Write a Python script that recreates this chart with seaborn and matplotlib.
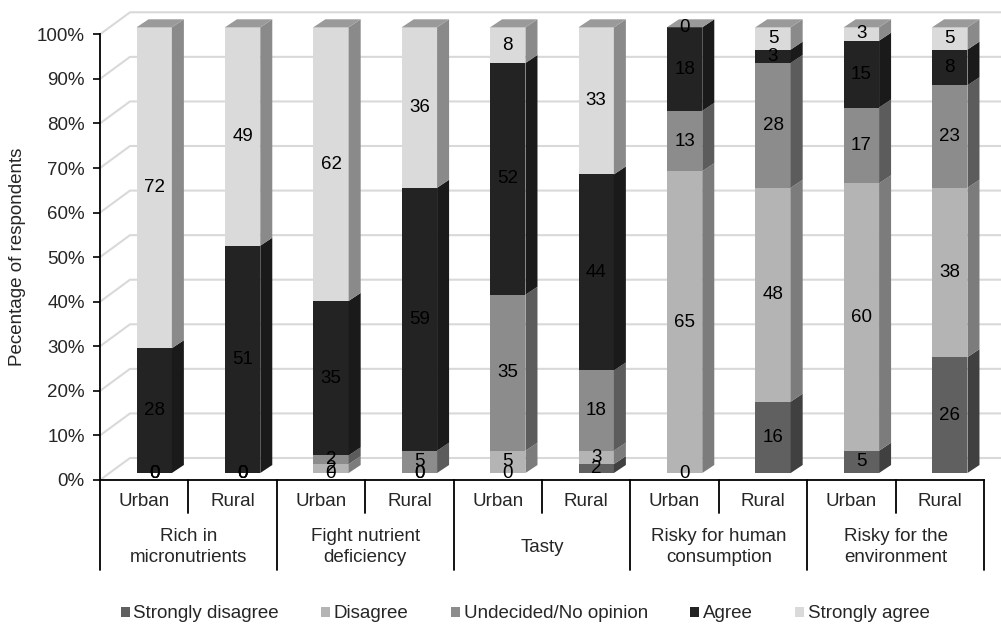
import numpy as np
import pandas as pd
import matplotlib
matplotlib.use('Agg')
import matplotlib.pyplot as plt
from matplotlib.patches import Polygon, Patch
import seaborn as sns

# chart data (respondent counts per answer, per bar)
groups = ['Rich in\nmicronutrients', 'Fight nutrient\ndeficiency', 'Tasty',
          'Risky for human\nconsumption', 'Risky for the\nenvironment']
areas = ['Urban', 'Rural']
levels = ['Strongly disagree', 'Disagree', 'Undecided/No opinion', 'Agree', 'Strongly agree']

strongly_disagree = [0, 0, 0, 0, 0, 2, 0, 16, 5, 26]
disagree = [0, 0, 2, 0, 5, 3, 65, 48, 60, 38]
undecided = [0, 0, 2, 5, 35, 18, 13, 28, 17, 23]
agree = [28, 51, 35, 59, 52, 44, 18, 3, 15, 8]
strongly_agree = [72, 49, 62, 36, 8, 33, 0, 5, 3, 5]

front_colors = ['#606060', '#b4b4b4', '#8c8c8c', '#232323', '#dadada']
side_colors = ['#404040', '#7c7c7c', '#5c5c5c', '#1a1a1a', '#8a8a8a']
top_color = '#9a9a9a'
grid_color = '#d9d9d9'
fs = 13.5

sns.set_style('white')
plt.rcParams['font.family'] = ['Liberation Sans', 'DejaVu Sans']

series = np.array([strongly_disagree, disagree, undecided, agree, strongly_agree], dtype=float)
pct = series / series.sum(axis=0) * 100
cum = np.cumsum(pct, axis=0)
bar_ids = [f'{g}|{a}' for g in groups for a in areas]
n = len(bar_ids)

fig = plt.figure(figsize=(10.01, 6.24), dpi=100)
W, H = 1001, 624
x0, x1, y0, y1 = 100, 984, 480, 34.3
ax = fig.add_axes([x0 / W, 1 - y0 / H, (x1 - x0) / W, (y0 - y1) / H])

# pixel sizes of one data unit
ux = (x1 - x0) / n
uy = (y0 - y1) / 100
FX, FY = 10 / ux, 7 / uy      # front face offset from the axis plane
DX, DY = 12 / ux, 8 / uy      # bar depth
WX, WY = 30 / ux, 22 / uy     # back wall offset
bw = 0.4

# back wall gridlines
for v in range(0, 101, 10):
    ax.plot([-0.5, -0.5 + WX, n - 0.5 + WX], [v, v + WY, v + WY],
            color=grid_color, lw=1.5, clip_on=False, zorder=0)

# front faces: cumulative stacks drawn tallest first
for k in range(len(levels) - 1, -1, -1):
    before = len(ax.patches)
    df = pd.DataFrame({'bar': bar_ids, 'value': cum[k]})
    sns.barplot(data=df, x='bar', y='value', order=bar_ids, color=front_colors[k],
                saturation=1, width=bw, linewidth=0, ax=ax, zorder=2)
    for p in ax.patches[before:]:
        p.set_x(p.get_x() + FX)
        p.set_y(p.get_y() + FY)
        p.set_clip_on(False)

# side and top faces
for i in range(n):
    xr = i + FX + bw / 2
    xl = xr - bw
    bottom = 0
    for k in range(len(levels)):
        top = cum[k, i]
        ax.add_patch(Polygon([(xr, bottom + FY), (xr, top + FY), (xr + DX, top + FY + DY),
                              (xr + DX, bottom + FY + DY)], closed=True,
                             facecolor=side_colors[k], lw=0, zorder=2, clip_on=False))
        bottom = top
    ax.add_patch(Polygon([(xl, 100 + FY), (xr, 100 + FY), (xr + DX, 100 + FY + DY),
                          (xl + DX, 100 + FY + DY)], closed=True,
                         facecolor=top_color, lw=0, zorder=2, clip_on=False))

# value labels
for i in range(n):
    bottom = 0
    for k in range(len(levels)):
        top = cum[k, i]
        ax.text(i + FX, (bottom + top) / 2 + FY, f'{int(series[k, i])}', ha='center',
                va='center', fontsize=fs, color='black', zorder=5)
        bottom = top

ax.set_xlim(-0.5, n - 0.5)
ax.set_ylim(0, 100)
ax.set_xticks([])
ax.set_xlabel('')
ax.set_ylabel('')
ax.set_yticks(range(0, 101, 10))
ax.set_yticklabels([f'{v}%' for v in range(0, 101, 10)], fontsize=fs)
ax.tick_params(axis='y', direction='out', length=5, width=1.2, color='black', pad=6, left=True)
for s in ['top', 'right']:
    ax.spines[s].set_visible(False)
for s in ['left', 'bottom']:
    ax.spines[s].set_color('black')
    ax.spines[s].set_linewidth(1.3)

# category axis with two levels
short_y = -(513 - y0) / uy
long_y = -(570 - y0) / uy
for j in range(n + 1):
    b = j - 0.5
    ax.plot([b, b], [0, long_y if j % 2 == 0 else short_y], color='black', lw=1.3,
            clip_on=False, zorder=3)
for i, bid in enumerate(bar_ids):
    ax.text(i, -(502 - y0) / uy, bid.split('|')[1], ha='center', va='center', fontsize=fs)
for g, name in enumerate(groups):
    ax.text(2 * g + 0.5, -(547 - y0) / uy, name, ha='center', va='center', fontsize=fs,
            linespacing=1.3)

fig.text(18 / W, 1 - 257 / H, 'Pecentage of respondents', rotation=90, ha='center',
         va='center', fontsize=fs)

handles = [Patch(facecolor=c, edgecolor='none') for c in front_colors]
fig.legend(handles, levels, loc='center', bbox_to_anchor=(525 / W, 1 - 614 / H), ncol=5,
           frameon=False, fontsize=fs, handlelength=0.48, handleheight=0.48,
           handletextpad=0.2, columnspacing=2.25)

fig.savefig('out.png', dpi=100)
